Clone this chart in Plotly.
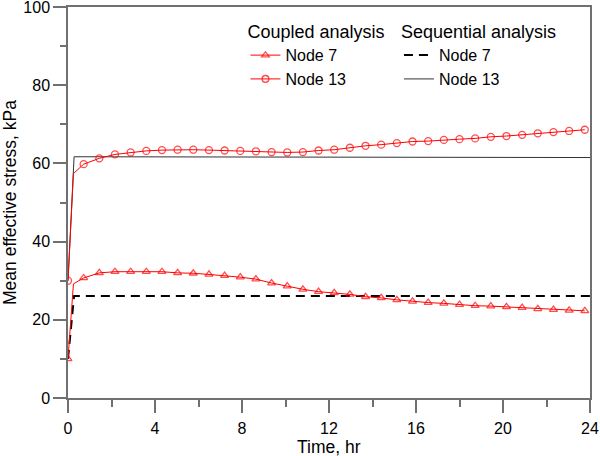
import plotly.graph_objects as go

# coupled analysis: start point, end of the initial jump, then the marked points
time_coupled = [0, 0.25, 0.72, 1.44, 2.16, 2.88, 3.6, 4.32, 5.04, 5.76, 6.48,
                7.2, 7.92, 8.64, 9.36, 10.08, 10.8, 11.52, 12.24, 12.96, 13.68,
                14.4, 15.12, 15.84, 16.56, 17.28, 18.0, 18.72, 19.44, 20.16,
                20.88, 21.6, 22.32, 23.04, 23.76]
node7_coupled = [10.0, 29.2, 30.7, 32.0, 32.3, 32.3, 32.3, 32.3, 32.0, 31.9,
                 31.6, 31.3, 30.9, 30.4, 29.4, 28.6, 27.8, 27.2, 26.9, 26.5,
                 25.9, 25.6, 25.1, 24.7, 24.4, 24.2, 23.9, 23.6, 23.5, 23.3,
                 23.1, 22.8, 22.6, 22.4, 22.3]
node13_coupled = [30.0, 57.4, 59.8, 61.3, 62.3, 62.8, 63.2, 63.4, 63.5, 63.5,
                  63.4, 63.3, 63.2, 63.1, 62.9, 62.8, 62.9, 63.3, 63.5, 64.0,
                  64.5, 64.8, 65.2, 65.6, 65.7, 66.0, 66.2, 66.4, 66.8, 67.0,
                  67.3, 67.7, 68.0, 68.3, 68.6]

# sequential analysis
time_seq = [0, 0.28, 24]
node7_seq = [10.0, 26.1, 26.1]
node13_seq = [30.0, 61.7, 61.5]

FONT = "Arial, Liberation Sans, sans-serif"
RED = "#ff0000"
AXIS = "#707070"

# no marker at the end of the initial jump
sizes = [7, 0] + [7] * (len(time_coupled) - 2)

fig = go.Figure()
fig.add_trace(go.Scatter(
    x=time_seq, y=node7_seq, mode="lines", name="Node 7", legend="legend2",
    line=dict(color="black", width=2, dash="9px,6px"),
))
fig.add_trace(go.Scatter(
    x=time_seq, y=node13_seq, mode="lines", name="Node 13", legend="legend2",
    line=dict(color="#333333", width=1),
))
fig.add_trace(go.Scatter(
    x=time_coupled, y=node7_coupled, mode="lines+markers", name="Node 7",
    line=dict(color=RED, width=1),
    marker=dict(symbol="triangle-up-open", size=sizes, color=RED,
                line=dict(color=RED, width=1.3)),
))
fig.add_trace(go.Scatter(
    x=time_coupled, y=node13_coupled, mode="lines+markers", name="Node 13",
    line=dict(color=RED, width=1),
    marker=dict(symbol="circle-open", size=sizes, color=RED,
                line=dict(color=RED, width=1.3)),
))

axis_common = dict(
    showgrid=False, zeroline=False, showline=True, mirror=True,
    linecolor=AXIS, linewidth=1.5, automargin=False,
    ticks="outside", ticklen=13, tickcolor=AXIS, tickwidth=1.5,
    tickfont=dict(size=16, color="black"), ticklabeloverflow="allow",
)
fig.update_layout(
    width=600, height=456,
    margin=dict(l=68, r=10, t=7, b=58),
    paper_bgcolor="white", plot_bgcolor="white",
    font=dict(family=FONT, size=16, color="black"),
    xaxis=dict(range=[0, 24], dtick=4, ticklabelstandoff=2,
               minor=dict(dtick=2, ticks="outside", ticklen=7,
                          tickcolor=AXIS, tickwidth=1.5),
               **axis_common),
    yaxis=dict(range=[0, 100], dtick=20,
               title=dict(text="Mean effective stress, kPa", standoff=3,
                          font=dict(size=17.5)),
               minor=dict(dtick=10, ticks="outside", ticklen=6,
                          tickcolor=AXIS, tickwidth=1.5),
               **axis_common),
    legend=dict(x=0.34, y=0.98, xanchor="left", yanchor="top",
                bgcolor="rgba(0,0,0,0)", tracegroupgap=0,
                title=dict(text="Coupled analysis", font=dict(size=18)),
                font=dict(size=16)),
    legend2=dict(x=0.634, y=0.98, xanchor="left", yanchor="top",
                 bgcolor="rgba(0,0,0,0)", tracegroupgap=0,
                 title=dict(text="Sequential analysis", font=dict(size=18)),
                 font=dict(size=16)),
    showlegend=True,
)
# x-axis title sits tight under the tick labels, as in the source figure
fig.add_annotation(text="Time, hr", xref="paper", yref="paper", x=0.5,
                   y=-0.125, xanchor="center", yanchor="middle",
                   showarrow=False, font=dict(size=17.5))

# the page's default body margin would shift the chart inside the window
fig.write_html("out.html", config={"displayModeBar": False},
               post_script="document.body.style.margin = '0';")
